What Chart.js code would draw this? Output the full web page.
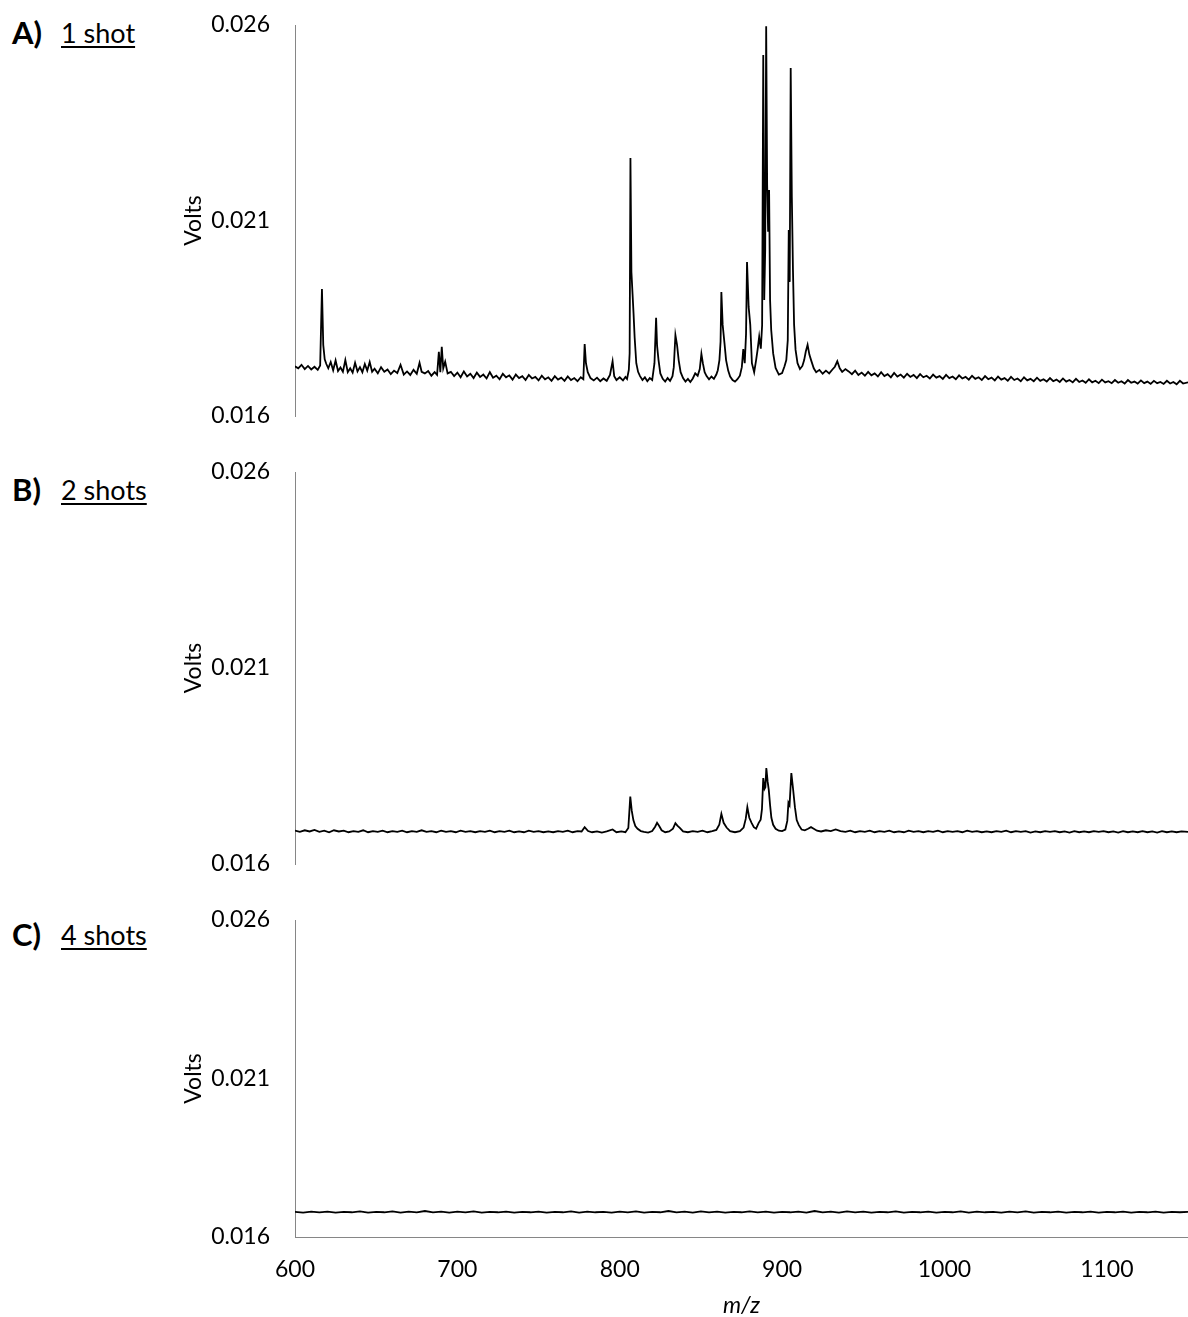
<!DOCTYPE html>
<html>
<head>
<meta charset="utf-8">
<script src="https://cdn.jsdelivr.net/npm/chart.js@4.4.1/dist/chart.umd.min.js"></script>
<style>
  body { margin: 0; background: #fff; width: 1188px; height: 1317px; overflow: hidden; position: relative; font-family: Lato, sans-serif; }
  .panel { position: absolute; left: 180px; }
  .tag { position: absolute; color: #000; white-space: nowrap; line-height: 1; }
  .letter { left: 12px; font-size: 31px; font-weight: bold; }
  .shots { left: 61px; font-size: 27px; text-decoration: underline; text-decoration-thickness: 1.5px; text-underline-offset: 3px; }
</style>
</head>
<body>
<div class="tag letter" style="top:17px">A)</div>
<div class="tag shots" style="top:19px">1 shot</div>
<div class="tag letter" style="top:474px">B)</div>
<div class="tag shots" style="top:476px">2 shots</div>
<div class="tag letter" style="top:919px">C)</div>
<div class="tag shots" style="top:921px">4 shots</div>

<canvas id="chartA" class="panel" style="top:0px" width="1008" height="440"></canvas>
<canvas id="chartB" class="panel" style="top:447px" width="1008" height="440"></canvas>
<canvas id="chartC" class="panel" style="top:895px" width="1008" height="422"></canvas>

<script>
// axis ticks
const xTicks = [600, 700, 800, 900, 1000, 1100];
const yTicks = [0.016, 0.021, 0.026];

// A) 1 shot - m/z and Volts
const mzA = [
  600, 602, 604, 606, 608, 610, 612, 614, 615.5, 616.6,
  617.4, 618.3, 619.3, 620.5, 622, 623.5, 625, 626.5, 628, 629.5,
  631, 632.5, 634, 635.5, 637, 638.5, 640, 641.5, 643, 644.5,
  646, 647.5, 649, 651, 653, 655, 657, 659, 661, 663,
  665, 667, 669, 671, 673, 675, 676.7, 678, 680, 682,
  684, 686, 687.5, 688.6, 689.5, 690.4, 691.3, 692.5, 694, 696,
  698, 700, 702, 704, 706, 708, 710, 712, 714, 716,
  718, 720, 722, 724, 726, 728, 730, 732, 734, 736,
  738, 740, 742, 744, 746, 748, 750, 752, 754, 756,
  758, 760, 762, 764, 766, 768, 770, 772, 774, 776,
  777.6, 778.4, 779.2, 780.3, 782, 784, 786, 788, 790, 792,
  794, 795.6, 796.6, 798, 800, 802, 803.5, 804.5, 805.6, 806.1,
  806.6, 807.2, 807.9, 808.5, 809.2, 810.2, 811.3, 812.5, 814, 815.5,
  817, 818.5, 820, 821.4, 822.4, 823, 823.9, 825, 826.5, 828,
  829.5, 831, 832.5, 833.3, 834.3, 835.3, 836.3, 837.5, 839, 840.5,
  842, 843.5, 845, 846.5, 848, 849.3, 850.3, 851.2, 852.3, 853.5,
  855, 856.5, 858, 859.5, 860.4, 861.4, 862.1, 862.6, 863.4, 864.5,
  865.5, 866.8, 868, 869.5, 871, 872.5, 874, 875.2, 876.1, 877,
  877.8, 878.4, 879.4, 880.4, 881.4, 882.8, 884, 884.9, 885.9, 886.9,
  887.7, 888.4, 889, 889.6, 890.2, 890.8, 891.4, 892, 892.6, 893.3,
  894.5, 896, 898, 900, 901.5, 902.6, 903.5, 904.1, 904.7, 905.3,
  906, 906.7, 907.4, 908.3, 909.5, 911, 912.5, 913.6, 914.6, 915.7,
  916.8, 918, 919.5, 921, 923, 925, 927, 929, 931, 932.5,
  934, 935.5, 937, 939,
  941, 943, 945, 947, 949, 951, 953, 955, 957, 959,
  961, 963, 965, 967, 969, 971, 973, 975, 977, 979,
  981, 983, 985, 987, 989, 991, 993, 995, 997, 999,
  1001, 1003, 1005, 1007, 1009, 1011, 1013, 1015, 1017, 1019,
  1021, 1023, 1025, 1027, 1029, 1031, 1033, 1035, 1037, 1039,
  1041, 1043, 1045, 1047, 1049, 1051, 1053, 1055, 1057, 1059,
  1061, 1063, 1065, 1067, 1069, 1071, 1073, 1075, 1077, 1079,
  1081, 1083, 1085, 1087, 1089, 1091, 1093, 1095, 1097, 1099,
  1101, 1103, 1105, 1107, 1109, 1111, 1113, 1115, 1117, 1119,
  1121, 1123, 1125, 1127, 1129, 1131, 1133, 1135, 1137, 1139,
  1141, 1143, 1145, 1147, 1150
];
const voltsA = [
  0.01727, 0.01722, 0.01731, 0.01720, 0.01728, 0.01719, 0.01726, 0.01718, 0.01729, 0.01925,
  0.01782, 0.01745, 0.01733, 0.01722, 0.01738, 0.01717, 0.01742, 0.01715, 0.01724, 0.01713,
  0.01743, 0.01712, 0.01722, 0.01711, 0.01736, 0.01714, 0.01725, 0.01712, 0.01733, 0.01716,
  0.01738, 0.01713, 0.01721, 0.01709, 0.01725, 0.01713, 0.01719, 0.01707, 0.01716, 0.01710,
  0.01731, 0.01706, 0.01714, 0.01705, 0.01718, 0.01708, 0.01736, 0.01713, 0.01709, 0.01715,
  0.01703, 0.01712, 0.01705, 0.01764, 0.01712, 0.01777, 0.01722, 0.01739, 0.01709, 0.01713,
  0.01702, 0.01711, 0.01699, 0.01714, 0.01701, 0.01708, 0.01697, 0.01711, 0.01700, 0.01706,
  0.01696, 0.01712, 0.01698, 0.01703, 0.01694, 0.01708, 0.01699, 0.01704, 0.01693, 0.01706,
  0.01697, 0.01702, 0.01692, 0.01705, 0.01696, 0.01700, 0.01691, 0.01703, 0.01694, 0.01699,
  0.01690, 0.01702, 0.01693, 0.01698, 0.01690, 0.01701, 0.01692, 0.01697, 0.01689, 0.01699,
  0.01694, 0.01784, 0.01735, 0.01712, 0.01697, 0.01691, 0.01698, 0.01689, 0.01696, 0.01690,
  0.01705, 0.01740, 0.01702, 0.01692, 0.01699, 0.01691, 0.01700, 0.01695, 0.01718, 0.01760,
  0.02260, 0.01968, 0.01912, 0.01863, 0.01800, 0.01735, 0.01713, 0.01702, 0.01692, 0.01699,
  0.01689, 0.01697, 0.01692, 0.01735, 0.01851, 0.01780, 0.01743, 0.01709, 0.01695, 0.01688,
  0.01697, 0.01690, 0.01702, 0.01725, 0.01807, 0.01782, 0.01743, 0.01712, 0.01697, 0.01688,
  0.01695, 0.01687, 0.01696, 0.01709, 0.01703, 0.01720, 0.01759, 0.01735, 0.01712, 0.01702,
  0.01694, 0.01701, 0.01695, 0.01706, 0.01717, 0.01743, 0.01790, 0.01917, 0.01833, 0.01787,
  0.01743, 0.01716, 0.01701, 0.01692, 0.01688, 0.01694, 0.01703, 0.01725, 0.01771, 0.01735,
  0.01810, 0.01994, 0.01879, 0.01833, 0.01735, 0.01712, 0.01743, 0.01769, 0.01803, 0.01772,
  0.01832, 0.02523, 0.01897, 0.02025, 0.02597, 0.02191, 0.02071, 0.02178, 0.01897, 0.01820,
  0.01760, 0.01723, 0.01706, 0.01710, 0.01727, 0.01743, 0.01794, 0.02076, 0.01943, 0.02490,
  0.02160, 0.01973, 0.01833, 0.01769, 0.01735, 0.01720, 0.01728, 0.01743, 0.01765, 0.01782,
  0.01757, 0.01741, 0.01722, 0.01712, 0.01718, 0.01708, 0.01716, 0.01709, 0.01719, 0.01726,
  0.01740, 0.01722, 0.01713, 0.01720,
  0.01714, 0.01707, 0.01716, 0.01705, 0.01711, 0.01703, 0.01713, 0.01704, 0.01709, 0.01701,
  0.01712, 0.01702, 0.01707, 0.01699, 0.01710, 0.01701, 0.01706, 0.01698, 0.01708, 0.01700,
  0.01705, 0.01697, 0.01707, 0.01699, 0.01703, 0.01696, 0.01706, 0.01698, 0.01702, 0.01695,
  0.01705, 0.01697, 0.01701, 0.01694, 0.01704, 0.01696, 0.01700, 0.01693, 0.01703, 0.01695,
  0.01699, 0.01692, 0.01702, 0.01694, 0.01698, 0.01691, 0.01701, 0.01693, 0.01697, 0.01690,
  0.01700, 0.01692, 0.01696, 0.01689, 0.01699, 0.01691, 0.01695, 0.01689, 0.01698, 0.01690,
  0.01694, 0.01688, 0.01697, 0.01689, 0.01693, 0.01687, 0.01696, 0.01688, 0.01692, 0.01686,
  0.01695, 0.01687, 0.01691, 0.01685, 0.01694, 0.01686, 0.01690, 0.01684, 0.01693, 0.01686,
  0.01689, 0.01684, 0.01692, 0.01685, 0.01689, 0.01683, 0.01692, 0.01685, 0.01688, 0.01683,
  0.01691, 0.01684, 0.01688, 0.01682, 0.01690, 0.01684, 0.01687, 0.01682, 0.01690, 0.01683,
  0.01687, 0.01681, 0.01690, 0.01683, 0.01686
];

// B) 2 shots
const mzB = [
  600, 603, 606, 609, 612, 615, 618, 621, 624, 627,
  630, 633, 636, 639, 642, 645, 648, 651, 654, 657,
  660, 663, 666, 669, 672, 675, 678, 681, 684, 687,
  690, 693, 696, 699, 702, 705, 708, 711, 714, 717,
  720, 723, 726, 729, 732, 735, 738, 741, 744, 747,
  750, 753, 756, 759, 762, 765, 768, 771, 774, 776.5,
  778.4, 780.5, 783, 786, 789, 792, 795.6, 798, 801, 803.5,
  805.3, 806.5, 807.4, 808.4, 809.6, 811, 813, 815, 817.5, 820,
  821.8, 823, 824.3, 825.8, 828, 830.5, 832.8, 834.3, 835.5, 837,
  839, 842, 845, 848, 851, 854, 857, 859.5, 861.3, 862.6,
  864, 865.8, 868, 871, 874, 876.3, 877.6, 878.6, 879.8, 881.2,
  882.6, 884, 885.6, 886.8, 887.6, 888.4, 889.2, 889.7, 890.3, 891.1,
  891.8, 892.6, 893.4, 894.5, 896, 898, 900, 902, 903.2, 903.9,
  904.6, 905.7, 906.8, 907.9, 909, 910.3, 912, 914, 916, 917.8,
  919.5, 921.5, 924, 927, 930, 933, 936, 939, 942, 945,
  948, 951, 954, 957, 960, 963, 966, 969, 972, 975,
  978, 981, 984, 987, 990, 993, 996, 999, 1002, 1005,
  1008, 1011, 1014, 1017, 1020, 1023, 1026, 1029, 1032, 1035,
  1038, 1041, 1044, 1047, 1050, 1053, 1056, 1059, 1062, 1065,
  1068, 1071, 1074, 1077, 1080, 1083, 1086, 1089, 1092, 1095,
  1098, 1101, 1104, 1107, 1110, 1113, 1116, 1119, 1122, 1125,
  1128, 1131, 1134, 1137, 1140, 1143, 1146, 1150
];
const voltsB = [
  0.01685, 0.01682, 0.01686, 0.01683, 0.01687, 0.01682, 0.01685, 0.01681, 0.01686, 0.01683,
  0.01685, 0.01681, 0.01684, 0.01682, 0.01686, 0.01681, 0.01684, 0.01682, 0.01685, 0.01681,
  0.01684, 0.01682, 0.01685, 0.01681, 0.01684, 0.01682, 0.01686, 0.01682, 0.01684, 0.01681,
  0.01685, 0.01682, 0.01684, 0.01681, 0.01685, 0.01682, 0.01684, 0.01681, 0.01684, 0.01682,
  0.01685, 0.01681, 0.01684, 0.01682, 0.01685, 0.01681, 0.01683, 0.01681, 0.01685, 0.01682,
  0.01684, 0.01681, 0.01683, 0.01681, 0.01684, 0.01682, 0.01685, 0.01681, 0.01684, 0.01683,
  0.01694, 0.01684, 0.01681, 0.01683, 0.01680, 0.01683, 0.01688, 0.01681, 0.01683, 0.01681,
  0.01692, 0.01772, 0.01736, 0.01712, 0.01697, 0.01690, 0.01684, 0.01682, 0.01680, 0.01684,
  0.01695, 0.01705, 0.01697, 0.01686, 0.01681, 0.01683, 0.01690, 0.01704, 0.01698, 0.01692,
  0.01683, 0.01681, 0.01684, 0.01682, 0.01685, 0.01681, 0.01684, 0.01687, 0.01700, 0.01728,
  0.01705, 0.01693, 0.01684, 0.01681, 0.01684, 0.01693, 0.01715, 0.01745, 0.01718, 0.01705,
  0.01694, 0.01690, 0.01705, 0.01713, 0.01740, 0.01819, 0.01792, 0.01796, 0.01845, 0.01810,
  0.01789, 0.01750, 0.01718, 0.01700, 0.01690, 0.01685, 0.01684, 0.01688, 0.01710, 0.01756,
  0.01750, 0.01832, 0.01790, 0.01745, 0.01712, 0.01699, 0.01688, 0.01686, 0.01690, 0.01694,
  0.01690, 0.01685, 0.01683, 0.01686, 0.01684, 0.01688, 0.01684, 0.01682, 0.01685, 0.01681,
  0.01684, 0.01682, 0.01685, 0.01681, 0.01684, 0.01682, 0.01685, 0.01681, 0.01683, 0.01681,
  0.01685, 0.01682, 0.01684, 0.01681, 0.01684, 0.01682, 0.01685, 0.01681, 0.01684, 0.01682,
  0.01684, 0.01681, 0.01685, 0.01682, 0.01684, 0.01681, 0.01683, 0.01681, 0.01684, 0.01682,
  0.01685, 0.01681, 0.01684, 0.01682, 0.01684, 0.01680, 0.01683, 0.01681, 0.01684, 0.01682,
  0.01684, 0.01681, 0.01683, 0.01680, 0.01684, 0.01681, 0.01683, 0.01681, 0.01684, 0.01682,
  0.01684, 0.01681, 0.01683, 0.01680, 0.01684, 0.01681, 0.01683, 0.01681, 0.01684, 0.01681,
  0.01683, 0.01680, 0.01684, 0.01681, 0.01683, 0.01681, 0.01683, 0.01682
];

// C) 4 shots - flat trace
const mzC = [
  600, 605, 610, 615, 620, 625, 630, 635, 640, 645,
  650, 655, 660, 665, 670, 675, 680, 685, 690, 695,
  700, 705, 710, 715, 720, 725, 730, 735, 740, 745,
  750, 755, 760, 765, 770, 775, 780, 785, 790, 795,
  800, 805, 810, 815, 820, 825, 830, 835, 840, 845,
  850, 855, 860, 865, 870, 875, 880, 885, 890, 895,
  900, 905, 910, 915, 920, 925, 930, 935, 940, 945,
  950, 955, 960, 965, 970, 975, 980, 985, 990, 995,
  1000, 1005, 1010, 1015, 1020, 1025, 1030, 1035, 1040, 1045,
  1050, 1055, 1060, 1065, 1070, 1075, 1080, 1085, 1090, 1095,
  1100, 1105, 1110, 1115, 1120, 1125, 1130, 1135, 1140, 1145,
  1150
];
const voltsC = [
  0.01679, 0.01677, 0.01680, 0.01678, 0.01680, 0.01677, 0.01679, 0.01678, 0.01681, 0.01677,
  0.01679, 0.01678, 0.01681, 0.01677, 0.01680, 0.01678, 0.01682, 0.01678, 0.01680, 0.01677,
  0.01680, 0.01678, 0.01681, 0.01677, 0.01679, 0.01678, 0.01680, 0.01677, 0.01679, 0.01678,
  0.01680, 0.01677, 0.01679, 0.01678, 0.01681, 0.01677, 0.01680, 0.01678, 0.01679, 0.01677,
  0.01680, 0.01678, 0.01681, 0.01677, 0.01679, 0.01678, 0.01682, 0.01678, 0.01680, 0.01677,
  0.01681, 0.01678, 0.01680, 0.01677, 0.01679, 0.01678, 0.01681, 0.01678, 0.01680, 0.01677,
  0.01679, 0.01678, 0.01680, 0.01677, 0.01682, 0.01678, 0.01680, 0.01677, 0.01681, 0.01678,
  0.01680, 0.01677, 0.01679, 0.01678, 0.01681, 0.01677, 0.01679, 0.01678, 0.01680, 0.01677,
  0.01679, 0.01678, 0.01681, 0.01677, 0.01680, 0.01678, 0.01679, 0.01677, 0.01680, 0.01678,
  0.01681, 0.01677, 0.01679, 0.01678, 0.01680, 0.01677, 0.01679, 0.01678, 0.01680, 0.01677,
  0.01679, 0.01678, 0.01680, 0.01677, 0.01679, 0.01678, 0.01680, 0.01677, 0.01679, 0.01678,
  0.01679
];

const FONT = 'Lato';
const AXIS_GREY = '#868686';

// one spectrum panel; only the bottom one shows the m/z axis
function drawPanel(canvasId, mz, volts, showMz, padBottom) {
  const ctx = document.getElementById(canvasId).getContext('2d');
  return new Chart(ctx, {
    type: 'line',
    data: {
      datasets: [{
        data: mz.map((m, i) => ({ x: m, y: volts[i] })),
        borderColor: '#000',
        borderWidth: 1.8,
        pointRadius: 0,
        tension: 0,
        fill: false,
      }],
    },
    options: {
      responsive: false,
      animation: false,
      events: [],
      layout: { padding: { top: 25, bottom: padBottom, left: 0, right: 0 } },
      plugins: { legend: { display: false }, tooltip: { enabled: false } },
      scales: {
        x: {
          type: 'linear',
          min: 600,
          max: 1150,
          display: showMz,
          afterBuildTicks: scale => { scale.ticks = xTicks.map(v => ({ value: v })); },
          afterFit: scale => { if (showMz) scale.height = 80; },
          grid: { display: false, drawTicks: false },
          border: { display: true, color: AXIS_GREY, width: 1 },
          ticks: {
            color: '#000',
            padding: 19,
            maxRotation: 0,
            font: { family: FONT, size: 23 },
            callback: v => String(v),
          },
          title: {
            display: true,
            text: 'm/z',
            color: '#000',
            padding: 0,
            font: { family: FONT, size: 23, style: 'italic', lineHeight: 1 },
          },
        },
        y: {
          min: 0.016,
          max: 0.026,
          afterBuildTicks: scale => { scale.ticks = yTicks.map(v => ({ value: v })); },
          afterFit: scale => { scale.width = 115; },
          // invisible tick marks make the gap between labels and the axis line
          grid: { display: true, drawOnChartArea: false, drawTicks: true, tickLength: 25, color: 'rgba(0,0,0,0)' },
          border: { display: true, color: AXIS_GREY, width: 1 },
          ticks: {
            color: '#000',
            padding: 0,
            font: { family: FONT, size: 23 },
            callback: v => v.toFixed(3),
          },
          title: {
            display: true,
            text: 'Volts',
            color: '#000',
            padding: { top: 0, bottom: 0 },
            font: { family: FONT, size: 23 },
          },
        },
      },
    },
  });
}

drawPanel('chartA', mzA, voltsA, false, 24);
drawPanel('chartB', mzB, voltsB, false, 23);
drawPanel('chartC', mzC, voltsC, true, 0);
</script>
</body>
</html>
